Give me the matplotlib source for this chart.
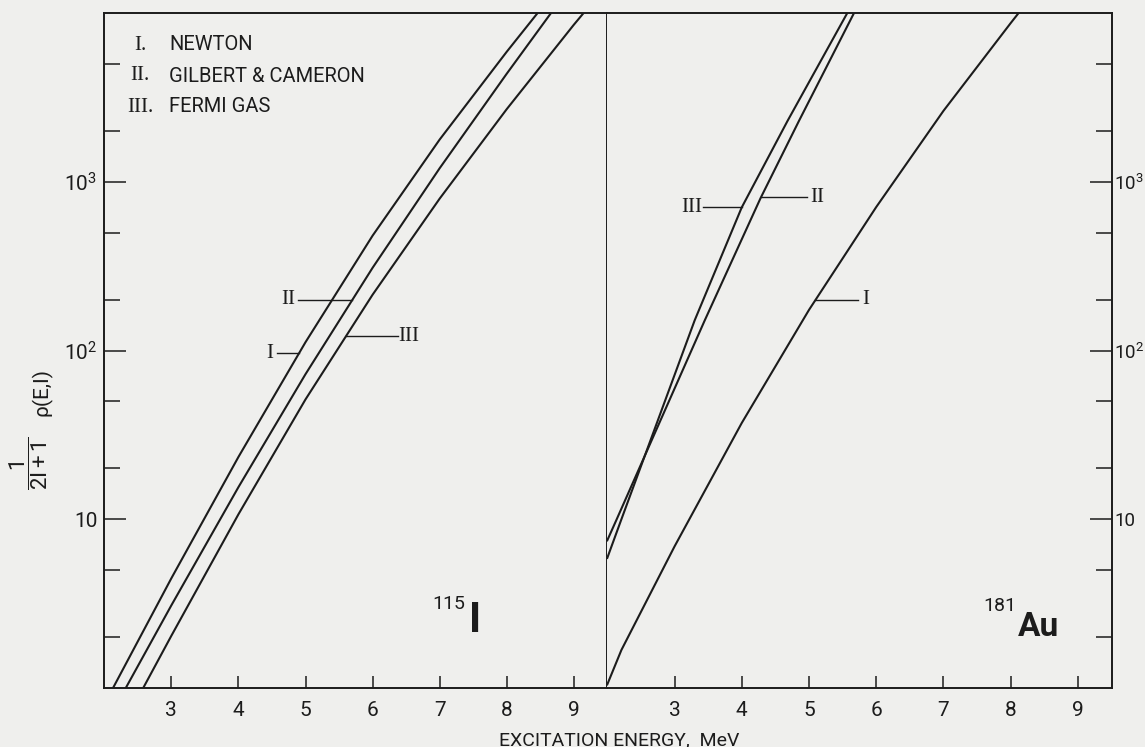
import matplotlib
matplotlib.use('Agg')
import matplotlib.pyplot as plt
import numpy as np
from matplotlib.ticker import FixedLocator, FixedFormatter, NullFormatter

# 115 I  (left panel)
newton_115_E = [2.13, 3, 4, 5, 6, 7, 8, 8.52]
newton_115_rho = [1, 4.47, 23.4, 112, 479, 1778, 5890, 10700]
gc_115_E = [2.32, 3, 4, 5, 6, 7, 8, 8.70]
gc_115_rho = [1, 3.09, 15.5, 72.4, 309, 1202, 4365, 10500]
fermi_115_E = [2.58, 3, 4, 5, 6, 7, 8, 9, 9.25]
fermi_115_rho = [1, 2.04, 10.7, 51.3, 214, 794, 2692, 8511, 11200]

# 181 Au  (right panel)
newton_181_E = [2.0, 2.21, 3, 4, 5, 6, 7, 8, 8.2]
newton_181_rho = [1.05, 1.68, 6.9, 37.2, 174, 708, 2630, 8710, 11000]
gc_181_E = [2.0, 2.14, 3.45, 4.28, 4.85, 5.67]
gc_181_rho = [7.5, 10, 151, 800, 2290, 10000]
fermi_181_E = [2.0, 2.21, 3.30, 4.0, 4.68, 5.57]
fermi_181_rho = [5.9, 10, 151, 705, 2290, 10000]

legend_num = ['I.', 'II.', 'III.']
legend_txt = ['NEWTON', 'GILBERT & CAMERON', 'FERMI GAS']
xticks = [3, 4, 5, 6, 7, 8, 9]
ymajor = [10, 100, 1000]
ymajor_lbl = ['10', '10$^2$', '10$^3$']
yminor = [2, 5, 20, 50, 200, 500, 2000, 5000]

W, H = 1145, 747
paper = '#efefed'
ink = '#1c1c1c'

plt.rcParams['font.family'] = ['Roboto', 'DejaVu Sans']
plt.rcParams['mathtext.fontset'] = 'custom'
plt.rcParams['mathtext.rm'] = 'Roboto'
plt.rcParams['mathtext.it'] = 'Roboto:italic'

def fx(p):
    return p / W

def fy(p):
    return 1 - p / H

x0_left, x0_right, xend = 104.3, 607.3, 1111.5
y_bot, y_top = 688, 13
px_per_mev = (x0_right - x0_left) / 7.5
px_per_dec = (y_bot - y_top) / 4.0

def E_of(px, x0):  # pixel -> MeV for a panel
    return 2 + (px - x0) / px_per_mev

def v_of(py):
    return 10 ** ((y_bot - py) / px_per_dec)

def E_on_curve(E, rho, v):
    return np.interp(np.log10(v), np.log10(rho), E)

fig = plt.figure(figsize=(W / 100, H / 100), dpi=100, facecolor=paper)
ax1 = fig.add_axes([fx(x0_left), fy(y_bot), (x0_right - x0_left) / W, (y_bot - y_top) / H])
ax2 = fig.add_axes([fx(x0_right), fy(y_bot), (xend - x0_right) / W, (y_bot - y_top) / H])

for ax in (ax1, ax2):
    ax.set_facecolor(paper)
    ax.set_yscale('log')
    ax.set_xlim(2, 9.5)
    ax.set_ylim(1, 1e4)
    for s in ax.spines.values():
        s.set_linewidth(1.4)
        s.set_color(ink)
    ax.xaxis.set_major_locator(FixedLocator(xticks))
    ax.set_xticklabels([str(t) for t in xticks])
    ax.yaxis.set_major_locator(FixedLocator(ymajor))
    ax.yaxis.set_major_formatter(FixedFormatter(ymajor_lbl))
    ax.yaxis.set_minor_locator(FixedLocator(yminor))
    ax.yaxis.set_minor_formatter(NullFormatter())
    ax.xaxis.set_minor_locator(FixedLocator([]))
    ax.tick_params(axis='x', direction='in', length=8.6, width=1.1, color=ink,
                   labelsize=15, pad=9, labelcolor=ink)
    ax.tick_params(axis='y', which='major', direction='in', length=16, width=1.1,
                   color=ink, labelsize=15, labelcolor=ink)
    ax.tick_params(axis='y', which='minor', direction='in', length=11.5, width=1.1,
                   color=ink)

ax1.tick_params(axis='y', which='both', left=True, right=False, pad=5)
ax2.yaxis.tick_right()
ax2.tick_params(axis='y', which='both', left=False, right=True, pad=2, labelsize=13.5)
ax2.spines['left'].set_visible(False)

lw = 1.5
ax1.plot(newton_115_E, newton_115_rho, color=ink, lw=lw)
ax1.plot(gc_115_E, gc_115_rho, color=ink, lw=lw)
ax1.plot(fermi_115_E, fermi_115_rho, color=ink, lw=lw)
ax2.plot(newton_181_E, newton_181_rho, color=ink, lw=lw)
ax2.plot(gc_181_E, gc_181_rho, color=ink, lw=lw)
ax2.plot(fermi_181_E, fermi_181_rho, color=ink, lw=lw)

serif = ['Liberation Serif', 'DejaVu Serif']
lead = dict(color=ink, lw=1.0)

# curve labels, left panel
v = v_of(300)
ax1.plot([E_of(298, x0_left), E_on_curve(gc_115_E, gc_115_rho, v)], [v, v], **lead)
ax1.text(E_of(288, x0_left), v, 'II', family=serif, fontsize=15, ha='center', va='center', color=ink)
v = v_of(353)
ax1.plot([E_of(277, x0_left), E_on_curve(newton_115_E, newton_115_rho, v)], [v, v], **lead)
ax1.text(E_of(270, x0_left), v, 'I', family=serif, fontsize=15, ha='center', va='center', color=ink)
v = v_of(336)
ax1.plot([E_on_curve(fermi_115_E, fermi_115_rho, v), E_of(398, x0_left)], [v, v], **lead)
ax1.text(E_of(409, x0_left), v, 'III', family=serif, fontsize=15, ha='center', va='center', color=ink)

# curve labels, right panel
v = v_of(207)
ax2.plot([E_of(703, x0_right), E_on_curve(fermi_181_E, fermi_181_rho, v)], [v, v], **lead)
ax2.text(E_of(692, x0_right), v, 'III', family=serif, fontsize=15, ha='center', va='center', color=ink)
v = v_of(197)
ax2.plot([E_on_curve(gc_181_E, gc_181_rho, v), E_of(807, x0_right)], [v, v], **lead)
ax2.text(E_of(817, x0_right), v, 'II', family=serif, fontsize=15, ha='center', va='center', color=ink)
v = v_of(300)
ax2.plot([E_on_curve(newton_181_E, newton_181_rho, v), E_of(857, x0_right)], [v, v], **lead)
ax2.text(E_of(865, x0_right), v, 'I', family=serif, fontsize=15, ha='center', va='center', color=ink)

# legend block
for i, (n, t) in enumerate(zip(legend_num, legend_txt)):
    yy = [45, 76, 107][i]
    fig.text(fx(140), fy(yy), n, family=serif, fontsize=15, ha='center', va='center', color=ink)
    fig.text(fx(169), fy(yy), t, fontsize=14.5, ha='left', va='center', color=ink)

# nucleus labels
fig.text(fx(449), fy(604), '115', fontsize=14, ha='center', va='center', color=ink)
fig.text(fx(475.5), fy(620), 'I', fontsize=30, weight='bold', ha='center', va='center', color=ink)
fig.text(fx(1000), fy(606), '181', fontsize=14, ha='center', va='center', color=ink)
fig.text(fx(1038), fy(627), 'Au', fontsize=24, weight='bold', ha='center', va='center', color=ink)

# axis titles
fig.text(fx(619), fy(745), 'EXCITATION ENERGY,  MeV', fontsize=14, ha='center', va='baseline', color=ink)
fig.text(fx(29), fy(463), r'$\dfrac{1}{\mathrm{2I+1}}$', rotation=90, fontsize=16,
         ha='center', va='center', color=ink)
fig.text(fx(42), fy(392), 'ρ(E,I)', rotation=90, fontsize=15, ha='center', va='center', color=ink)

fig.savefig('out.png', dpi=100, facecolor=paper)
